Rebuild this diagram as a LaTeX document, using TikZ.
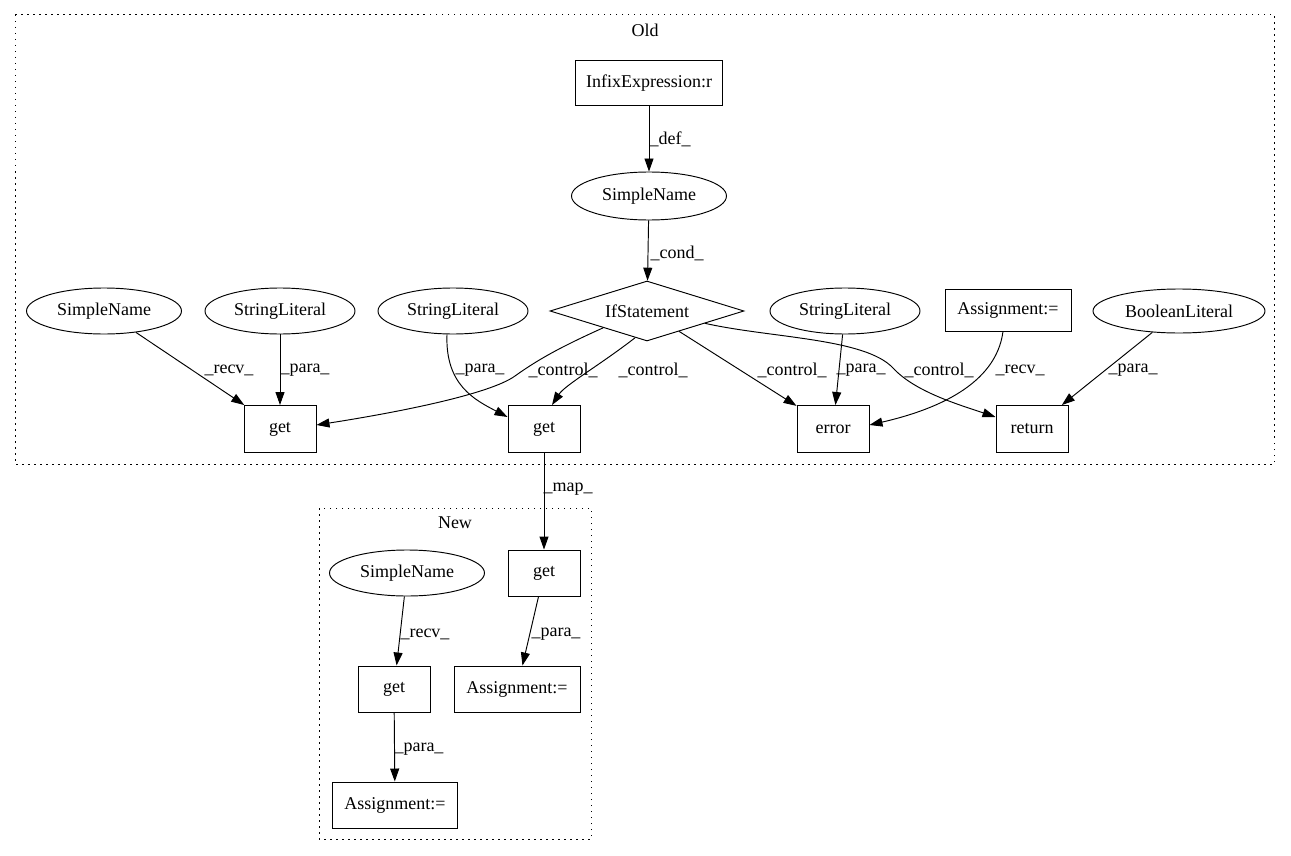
\documentclass[tikz,border=0pt]{standalone}
\usepackage{fontspec}
\setmainfont{Liberation Serif}
\usetikzlibrary{arrows.meta,shapes.geometric}
\begin{document}
\begin{tikzpicture}[x=1pt,y=-1pt,
 every node/.style={font=\fontsize{18}{21}\selectfont},
 box/.style={draw,rectangle,line width=0.95pt,inner sep=0pt,minimum width=72pt,minimum height=47pt},
 ell/.style={draw,ellipse,line width=0.95pt,inner sep=0pt,minimum width=152pt,minimum height=46pt},
 edge/.style={line width=0.95pt,-{Triangle[length=13pt,width=9pt]}},
 lbl/.style={inner sep=0pt},
 cluster/.style={draw,line width=1pt,dash pattern=on 1.5pt off 4.5pt}]
\useasboundingbox (0,0) rectangle (1291,856);
% clusters
\draw[cluster] (15,15) rectangle (1274,464);
\node[lbl] (oldlbl) at (645,30) {Old};
\draw[cluster] (319,508) rectangle (591,839);
\node[lbl] (newlbl) at (455,523) {New};
% Old nodes
\node[box,minimum width=147pt,minimum height=45pt] (infix) at (649,83) {InfixExpression:r};
\node[ell,minimum width=155pt,minimum height=48pt] (sn) at (649,196) {SimpleName};
\node[draw,diamond,line width=0.95pt,inner sep=0pt,shape aspect=3.2,minimum width=194pt,minimum height=60pt] (if) at (647,311) {IfStatement};
\node[ell,minimum width=155pt] (snl) at (104,311) {SimpleName};
\node[ell,minimum width=150pt] (sl1) at (280,311) {StringLiteral};
\node[ell,minimum width=150pt] (sl2) at (453,311) {StringLiteral};
\node[ell,minimum width=150pt] (sl3) at (845,311) {StringLiteral};
\node[box,minimum width=126pt,minimum height=42pt] (asg) at (1008,310) {Assignment:=};
\node[ell,minimum width=172pt,minimum height=44pt] (bool) at (1179,311) {BooleanLiteral};
\node[box] (get1) at (280,429) {get};
\node[box] (get2) at (544,429) {get};
\node[box] (err) at (833,429) {error};
\node[box] (ret) at (1032,429) {return};
% New nodes
\node[box,minimum height=46pt] (nget) at (544,573) {get};
\node[ell,minimum width=155pt] (nsn) at (407,573) {SimpleName};
\node[box,minimum height=46pt] (nget2) at (394,689) {get};
\node[box,minimum width=126pt,minimum height=46pt] (nasr) at (517,689) {Assignment:=};
\node[box,minimum width=125pt,minimum height=46pt] (nasb) at (395,805) {Assignment:=};
% edges
\draw[edge] (infix) -- (sn);
\node[lbl] (l1) at (670,139) {\_def\_};
\draw[edge] (sn) -- (if);
\node[lbl] (l2) at (677,253) {\_cond\_};
\draw[edge] (snl) -- (get1);
\node[lbl] (l3) at (229,370) {\_recv\_};
\draw[edge] (sl1) -- (get1);
\node[lbl] (l4) at (305,370) {\_para\_};
\draw[edge] (if.201) .. controls (565,345) and (540,358) .. (515,376) .. controls (490,394) and (400,412) .. ([yshift=4pt]get1.east);
\node[lbl] (l5) at (563,370) {\_control\_};
\draw[edge] ([xshift=-6pt]sl2.south) .. controls (445,385) and (475,400) .. ([yshift=12pt]get2.west);
\node[lbl] (l6) at (480,370) {\_para\_};
\draw[edge] (if.246) .. controls (600,365) and (565,385) .. ([xshift=8pt]get2.north);
\node[lbl] (l7) at (653,370) {\_control\_};
\draw[edge] (if) -- (err);
\node[lbl] (l8) at (792,370) {\_control\_};
\draw[edge] (sl3) -- (err);
\node[lbl] (l9) at (861,370) {\_para\_};
\draw[edge] (if.-12) .. controls (770,338) and (865,338) .. (893,368) .. controls (915,392) and (960,405) .. ([yshift=12pt]ret.west);
\node[lbl] (l10) at (939,370) {\_control\_};
\draw[edge] ([xshift=-5pt]asg.south) .. controls (996,385) and (935,410) .. ([yshift=4pt]err.east);
\node[lbl] (l11) at (1020,370) {\_recv\_};
\draw[edge] (bool) -- (ret);
\node[lbl] (l12) at (1133,370) {\_para\_};
\draw[edge] (get2) -- (nget);
\node[lbl] (l13) at (568,489) {\_map\_};
\draw[edge] (nsn) -- (nget2);
\node[lbl] (l14) at (425,634) {\_recv\_};
\draw[edge] (nget) -- (nasr);
\node[lbl] (l15) at (556,634) {\_para\_};
\draw[edge] (nget2) -- (nasb);
\node[lbl] (l16) at (419,749) {\_para\_};
\end{tikzpicture}
\end{document}
